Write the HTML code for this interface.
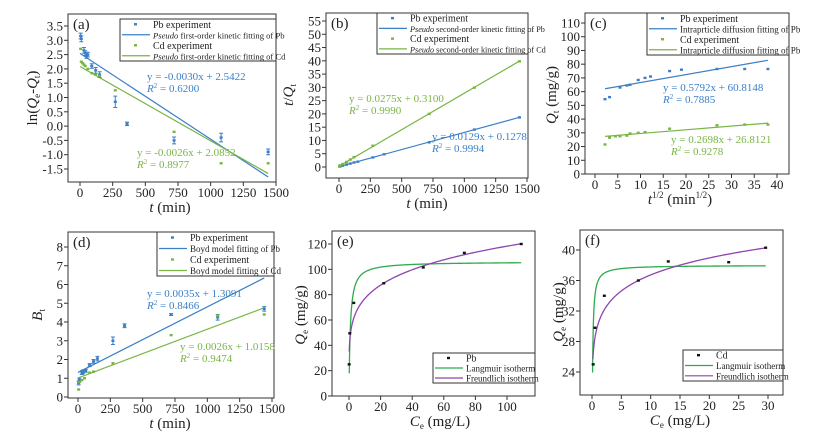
<!DOCTYPE html>
<html><head><meta charset="utf-8"><style>
html,body{margin:0;padding:0;background:#fff;}
svg{display:block;}
text{font-family:"Liberation Serif","Times New Roman","DejaVu Serif","Noto Serif CJK SC",serif;}
</style></head><body>
<svg id="fig" width="831" height="432" viewBox="0 0 831 432"></svg>
<script>
// ---- data ----
const aT_Pb=[5,10,30,40,50,60,90,120,150,270,360,720,1080,1440];
const aY_Pb=[3.15,3.05,2.65,2.55,2.45,2.5,2.1,1.95,1.8,0.85,0.08,-0.5,-0.4,-0.9];
const aE_Pb=[0.1,0.1,0.1,0.08,0.08,0.08,0.08,0.1,0.1,0.2,0.06,0.12,0.15,0.1];
const aT_Cd=[5,10,20,30,40,60,90,120,150,270,720,1080,1440];
const aY_Cd=[2.7,2.25,2.2,2.15,2.1,2.0,1.85,1.8,1.75,1.25,-0.2,-1.3,-1.3];
const aFit=[[-0.0030,2.5422],[-0.0026,2.0852]];
const bT_Pb=[5,10,30,60,90,120,150,270,360,720,1080,1440];
const bY_Pb=[0.2,0.26,0.5,0.9,1.3,1.7,2.0,3.6,4.8,9.3,14.1,18.7];
const bT_Cd=[5,10,30,60,90,120,270,720,1080,1440];
const bY_Cd=[0.45,0.6,1.1,1.9,2.8,3.7,8.0,20.0,29.9,39.8];
const bFit=[[0.0129,0.1278],[0.0275,0.3100]];
const cX_Pb=[2.2,3.2,5.5,7,7.7,9.5,11,12.2,16.4,19,26.8,32.9,38];
const cY_Pb=[54.5,56,63,64.5,65,68.5,70,71,75,76,76.5,76.5,76.5];
const cX_Cd=[2.2,3.2,4.5,5.5,7,7.7,9.5,11,16.4,26.8,32.9,38];
const cY_Cd=[21.5,26.5,27.5,27.5,28,29.5,30,30.5,33,35.5,36,36];
const cFit=[[0.5792,60.8148],[0.2698,26.8121]];
const dT_Pb=[5,10,30,40,60,90,120,150,270,360,720,1080,1440];
const dY_Pb=[0.75,0.9,1.3,1.35,1.4,1.7,1.9,2.05,3.0,3.8,4.4,4.25,4.7];
const dE_Pb=[0.1,0.1,0.1,0.1,0.08,0.08,0.1,0.12,0.2,0.1,0.05,0.15,0.12];
const dT_Cd=[5,10,30,50,90,120,270,720,1080,1440];
const dY_Cd=[0.4,0.8,0.9,1.0,1.3,1.35,1.8,3.3,4.35,4.4];
const dFit=[[0.0035,1.3091],[0.0026,1.0158]];
const eC=[0.1,0.5,3,22,47,73,109];
const eQ=[25,49.5,73.5,89,101.5,113,120];
const eLang=[106,1.2]; const eFreu=[50,0.187];
const fC=[0.2,0.5,2.1,7.9,13,23.3,29.6];
const fQ=[25,29.8,34,36,38.5,38.4,40.3];
const fLang=[38,17]; const fFreu=[30.2,0.085];
const ticksA_x=[0,250,500,750,1000,1250,1500];
const ticksA_y=[-1.5,-1.0,-0.5,0.0,0.5,1.0,1.5,2.0,2.5,3.0,3.5];
const ticksB_y=[0,5,10,15,20,25,30,35,40,45,50,55];
const ticksC_x=[0,5,10,15,20,25,30,35,40];
const ticksC_y=[0,10,20,30,40,50,60,70,80,90,100,110];
const ticksD_y=[0,1,2,3,4,5,6,7,8];
const ticksE_x=[0,20,40,60,80,100];
const ticksE_y=[0,20,40,60,80,100,120];
const ticksF_x=[0,5,10,15,20,25,30];
const ticksF_y=[24,28,32,36,40];

const BLUE="#3b7fc7", GREEN="#78b544", LG="#2faa4c", PUR="#8e44b0";
const NS="http://www.w3.org/2000/svg";
const svg=document.getElementById('fig');
function mk(tag,attrs,parent,name,inter){
  const el=document.createElementNS(NS,tag);
  for(const k in attrs) el.setAttribute(k,attrs[k]);
  
  
  (parent||svg).appendChild(el); return el;
}
function lin(v0,p0,v1,p1){return v=>p0+(v-v0)*(p1-p0)/(v1-v0);}
function fmt(v,d){return v.toFixed(d);}
function panel(P){
  const g=mk('g',{},svg,'panel-'+P.id,false);
  const X=lin(...P.xa), Y=lin(...P.ya);
  mk('rect',{x:P.f[0],y:P.f[1],width:P.f[2]-P.f[0],height:P.f[3]-P.f[1],fill:'none',stroke:'#333','stroke-width':1},g,'plot-frame',false);
  P.xt.forEach(v=>{const x=X(v);
    mk('line',{x1:x,x2:x,y1:P.f[3],y2:P.f[3]+4,stroke:'#333'},g,'x-tick',false);
    const t=mk('text',{x:x,y:P.f[3]+15,'font-size':13,'text-anchor':'middle',fill:'#222'},g,'x-tick-label',false);t.textContent=fmt(v,P.xd||0);});
  P.yt.forEach(v=>{const y=Y(v);
    mk('line',{x1:P.f[0]-4,x2:P.f[0],y1:y,y2:y,stroke:'#333'},g,'y-tick',false);
    const t=mk('text',{x:P.f[0]-5,y:y+4.5,'font-size':13,'text-anchor':'end',fill:'#222'},g,'y-tick-label',false);t.textContent=fmt(v,P.yd||0);});
  const pl=mk('text',{x:P.f[0]+5,y:P.f[1]+15,'font-size':15,fill:'#222'},g,'panel-label',false);pl.textContent='('+P.id+')';
  const xt=mk('text',{x:P.xl[0],y:P.f[3]+30,'font-size':15,'text-anchor':'middle',fill:'#222'},g,'x-axis-title',false);xt.innerHTML=P.xl[2];
  const yt=mk('text',{x:0,y:0,'font-size':15,'text-anchor':'middle',fill:'#222',transform:`translate(${P.yl[0]},${P.yl[1]}) rotate(-90)`},g,'y-axis-title',false);yt.innerHTML=P.yl[2];
  return {g,X,Y};
}
function pts(p,xs,ys,col,name,err){
  xs.forEach((x,i)=>{const px=p.X(x),py=p.Y(ys[i]);
    if(err){const e=Math.abs(p.Y(ys[i]+err[i])-py);
      mk('path',{d:`M${px},${py-e}V${py+e}M${px-2},${py-e}h4M${px-2},${py+e}h4`,stroke:col,'stroke-width':1,fill:'none'},p.g,name+'-errorbar',false);}
    mk('rect',{x:px-1.5,y:py-1.2,width:3,height:2.4,fill:col},p.g,name+'-point',false);});
}
function fitLine(p,fit,x0,x1,col,name){
  mk('line',{x1:p.X(x0),y1:p.Y(fit[0]*x0+fit[1]),x2:p.X(x1),y2:p.Y(fit[0]*x1+fit[1]),stroke:col,'stroke-width':1.2},p.g,name,false);
}
function curve(p,fn,x0,x1,col,name){
  let d='';for(let i=0;i<=300;i++){const x=x0*Math.pow(x1/x0,i/300);d+=(i?'L':'M')+p.X(x).toFixed(2)+','+p.Y(fn(x)).toFixed(2);}
  mk('path',{d,stroke:col,'stroke-width':1.3,fill:'none'},p.g,name,false);
}
function txt(p,x,y,s,col,name){const t=mk('text',{x,y,'font-size':11,fill:col},p.g,name,false);t.innerHTML=s;}
function legend(p,box,items){
  const lg=mk('g',{},p.g,'legend',false);
  mk('rect',{x:box[0],y:box[1],width:box[2]-box[0],height:box[3]-box[1],fill:'#fff',stroke:'#333','stroke-width':1},lg,'legend-box',false);
  const h=(box[3]-box[1])/items.length;
  items.forEach((it,i)=>{const cy=box[1]+h*(i+0.5);
    if(it[2]==='pt') mk('rect',{x:box[0]+14,y:cy-1.2,width:3,height:2.4,fill:it[1]},lg,'legend-marker',false);
    else mk('line',{x1:box[0]+2,x2:box[0]+30,y1:cy,y2:cy,stroke:it[1],'stroke-width':1.2},lg,'legend-line',false);
    const t=mk('text',{x:box[0]+33,y:cy+3.5,'font-size':it[3]||10,fill:'#222'},lg,'legend-entry',false);t.innerHTML=it[0];});
}
const R2='<tspan font-style="italic">R</tspan><tspan font-size="7" dy="-4">2</tspan><tspan dy="4"> = ';
// (a)
let p=panel({id:'a',f:[68,14,276,182],xa:[0,80,1500,276],ya:[-1.5,169,3.5,26],xt:ticksA_x,yt:ticksA_y,yd:1,
  xl:[170,0,'<tspan font-style="italic">t</tspan> (min)'],yl:[37,98,'ln(<tspan font-style="italic">Q</tspan><tspan font-size="9" dy="3">e</tspan><tspan dy="-3">-</tspan><tspan font-style="italic">Q</tspan><tspan font-size="9" dy="3">t</tspan><tspan dy="-3">)</tspan>']});
fitLine(p,aFit[0],0,1440,BLUE,'pb-fit-line');fitLine(p,aFit[1],0,1440,GREEN,'cd-fit-line');
pts(p,aT_Pb,aY_Pb,BLUE,'pb',aE_Pb);pts(p,aT_Cd,aY_Cd,GREEN,'cd');
txt(p,147,80,'y = -0.0030x + 2.5422',BLUE,'pb-equation');txt(p,147,92,R2+'0.6200</tspan>',BLUE,'pb-r2');
txt(p,137,156,'y = -0.0026x + 2.0852',GREEN,'cd-equation');txt(p,137,168,R2+'0.8977</tspan>',GREEN,'cd-r2');
legend(p,[120,19,276,61],[['Pb experiment',BLUE,'pt'],['<tspan font-style="italic">Pseudo</tspan> first-order kinetic fitting of Pb',BLUE,'ln',8.6],['Cd experiment',GREEN,'pt'],['<tspan font-style="italic">Pseudo</tspan> first-order kinetic fitting of Cd',GREEN,'ln',8.6]]);
// (b)
p=panel({id:'b',f:[326,13,528,178],xa:[0,339,1500,527],ya:[0,167,55,21],xt:ticksA_x,yt:ticksB_y,
  xl:[427,0,'<tspan font-style="italic">t</tspan> (min)'],yl:[293,95,'<tspan font-style="italic">t</tspan>/<tspan font-style="italic">Q</tspan><tspan font-size="9" dy="3">t</tspan>']});
fitLine(p,bFit[0],0,1440,BLUE,'pb-fit-line');fitLine(p,bFit[1],0,1440,GREEN,'cd-fit-line');
pts(p,bT_Pb,bY_Pb,BLUE,'pb');pts(p,bT_Cd,bY_Cd,GREEN,'cd');
txt(p,349,102,'y = 0.0275x + 0.3100',GREEN,'cd-equation');txt(p,349,114,R2+'0.9990</tspan>',GREEN,'cd-r2');
txt(p,432,140,'y = 0.0129x + 0.1278',BLUE,'pb-equation');txt(p,432,152,R2+'0.9994</tspan>',BLUE,'pb-r2');
legend(p,[377,13,528,54],[['Pb experiment',BLUE,'pt'],['<tspan font-style="italic">Pseudo</tspan> second-order kinetic fitting of Pb',BLUE,'ln',8.2],['Cd experiment',GREEN,'pt'],['<tspan font-style="italic">Pseudo</tspan> second-order kinetic fitting of Cd',GREEN,'ln',8.2]]);
// (c)
p=panel({id:'c',f:[585,13,789,174],xa:[0,595,40,777],ya:[0,174,110,23],xt:ticksC_x,yt:ticksC_y,
  xl:[680,0,'<tspan font-style="italic">t</tspan><tspan font-size="9" dy="-6">1/2</tspan><tspan dy="6"> (min</tspan><tspan font-size="9" dy="-6">1/2</tspan><tspan dy="6">)</tspan>'],yl:[556,95,'<tspan font-style="italic">Q</tspan><tspan font-size="9" dy="3">t</tspan><tspan dy="-3"> (mg/g)</tspan>']});
fitLine(p,cFit[0],2.2,38,BLUE,'pb-fit-line');fitLine(p,cFit[1],2.2,38,GREEN,'cd-fit-line');
pts(p,cX_Pb,cY_Pb,BLUE,'pb');pts(p,cX_Cd,cY_Cd,GREEN,'cd');
txt(p,663,91,'y = 0.5792x + 60.8148',BLUE,'pb-equation');txt(p,663,103,R2+'0.7885</tspan>',BLUE,'pb-r2');
txt(p,671,143,'y = 0.2698x + 26.8121',GREEN,'cd-equation');txt(p,671,155,R2+'0.9278</tspan>',GREEN,'cd-r2');
legend(p,[647,13,789,55],[['Pb experiment',BLUE,'pt'],['Intraprticle diffusion fitting of Pb',BLUE,'ln',9],['Cd experiment',GREEN,'pt'],['Intraprticle diffusion fitting of Pb',GREEN,'ln',9]]);
// (d)
p=panel({id:'d',f:[68,232,274,398],xa:[0,78,1500,272],ya:[0,397,8,247],xt:ticksA_x,yt:ticksD_y,
  xl:[170,0,'<tspan font-style="italic">t</tspan> (min)'],yl:[42,315,'<tspan font-style="italic">B</tspan><tspan font-size="9" dy="3">t</tspan>']});
fitLine(p,dFit[0],0,1440,BLUE,'pb-fit-line');fitLine(p,dFit[1],0,1440,GREEN,'cd-fit-line');
pts(p,dT_Pb,dY_Pb,BLUE,'pb',dE_Pb);pts(p,dT_Cd,dY_Cd,GREEN,'cd');
txt(p,147,297,'y = 0.0035x + 1.3091',BLUE,'pb-equation');txt(p,147,309,R2+'0.8466</tspan>',BLUE,'pb-r2');
txt(p,180,350,'y = 0.0026x + 1.0158',GREEN,'cd-equation');txt(p,180,362,R2+'0.9474</tspan>',GREEN,'cd-r2');
legend(p,[157,232,274,276],[['Pb experiment',BLUE,'pt'],['Boyd model fitting of Pb',BLUE,'ln',9],['Cd experiment',GREEN,'pt'],['Boyd model fitting of Cd',GREEN,'ln',9]]);
// (e)
p=panel({id:'e',f:[332,231,535,396],xa:[0,349,100,507],ya:[0,396,120,244],xt:ticksE_x,yt:ticksE_y,
  xl:[440,0,'<tspan font-style="italic">C</tspan><tspan font-size="9" dy="3">e</tspan><tspan dy="-3"> (mg/L)</tspan>'],yl:[305,315,'<tspan font-style="italic">Q</tspan><tspan font-size="9" dy="3">e</tspan><tspan dy="-3"> (mg/g)</tspan>']});
curve(p,c=>eLang[0]*eLang[1]*c/(1+eLang[1]*c),0.17,109,LG,'langmuir-curve');
curve(p,c=>eFreu[0]*Math.pow(c,eFreu[1]),0.15,109,PUR,'freundlich-curve');
pts(p,eC,eQ,'#111','pb');
legend(p,[433,353,535,383],[['Pb','#111','pt'],['Langmuir isotherm',LG,'ln',9],['Freundlich isotherm',PUR,'ln',9]]);
// (f)
p=panel({id:'f',f:[580,230,783,395],xa:[0,592,30,768],ya:[24,372,40,250],xt:ticksF_x,yt:ticksF_y,
  xl:[680,0,'<tspan font-style="italic">C</tspan><tspan font-size="9" dy="3">e</tspan><tspan dy="-3"> (mg/L)</tspan>'],yl:[563,312,'<tspan font-style="italic">Q</tspan><tspan font-size="9" dy="3">e</tspan><tspan dy="-3"> (mg/g)</tspan>']});
curve(p,c=>fLang[0]*fLang[1]*c/(1+fLang[1]*c),0.1,29.6,LG,'langmuir-curve');
curve(p,c=>fFreu[0]*Math.pow(c,fFreu[1]),0.15,29.6,PUR,'freundlich-curve');
pts(p,fC,fQ,'#111','cd');
legend(p,[683,350,783,381],[['Cd','#111','pt'],['Langmuir isotherm',LG,'ln',9],['Freundlich isotherm',PUR,'ln',9]]);
</script>
</body></html>
